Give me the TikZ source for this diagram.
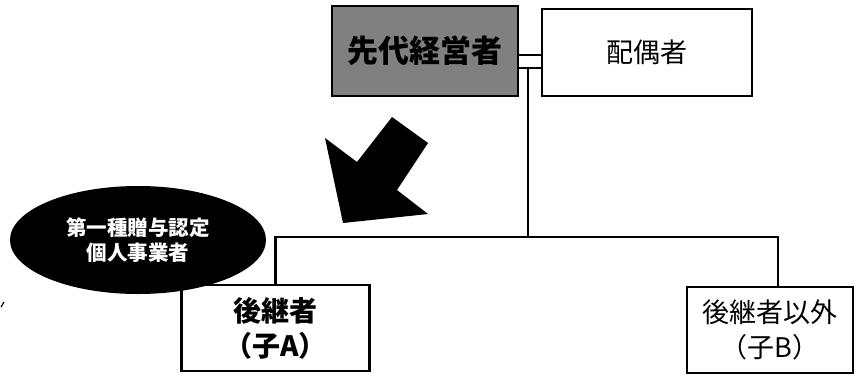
\documentclass[tikz,border=0pt]{standalone}
\usepackage{fontspec}
\setmainfont{Noto Sans CJK JP}
\usetikzlibrary{shapes.geometric}
\tikzset{
  box/.style={draw=black, line width=2.2pt, rectangle, inner sep=0pt, align=center, font=\fontsize{27}{35}\selectfont},
  bbox/.style={box, font=\fontsize{28}{35}\selectfont\bfseries},
  conn/.style={draw=black, line width=2.2pt},
  badge/.style={ellipse, fill=black, draw=none, inner sep=0pt, text=white, align=center, font=\fontsize{20.5}{25}\selectfont\bfseries},
  bigarrow/.style={fill=black, draw=none}
}
\begin{document}
\begin{tikzpicture}[x=1pt,y=-1pt]
\useasboundingbox (0,0) rectangle (864,375);
% boxes
\node[bbox, fill=black!50, minimum width=186pt, minimum height=90pt, font=\fontsize{31}{35}\selectfont\bfseries] (senpai) at (425,51) {先代経営者};
\node[box, fill=white, minimum width=210pt, minimum height=87pt] (haigu) at (647,52.5) {配偶者};
\node[bbox, fill=white, minimum width=188pt, minimum height=86pt] (koukei) at (275.5,328) {後継者\\（子A）};
\node[box, fill=white, minimum width=166pt, minimum height=86pt] (igai) at (770,330) {後継者以外\\（子B）};
% marriage double line
\draw[conn, line width=1.8pt] (senpai.east |- 0,55) -- (haigu.west |- 0,55);
\draw[conn, line width=1.8pt] (senpai.east |- 0,68) -- (haigu.west |- 0,68);
\coordinate (mar) at (528,68);
\coordinate (bar) at (528,237);
\draw[conn] (mar) -- (bar);
\draw[conn] (koukei.north) |- (bar) -| ([xshift=8pt]igai.north);
% big arrow
\fill[bigarrow] (392,117) -- (428,143) -- (397,190) -- (428,214) -- (343,223) -- (325,138) -- (357,162) -- cycle;
% badge
\node[badge, minimum width=256pt, minimum height=108pt] (badge) at (138,240) {第一種贈与認定\\個人事業者};
% small stray mark
\coordinate (s1) at (1,307);
\coordinate (s2) at (4,302);
\draw[line width=1.2pt] (s1) -- (s2);
\end{tikzpicture}
\end{document}
